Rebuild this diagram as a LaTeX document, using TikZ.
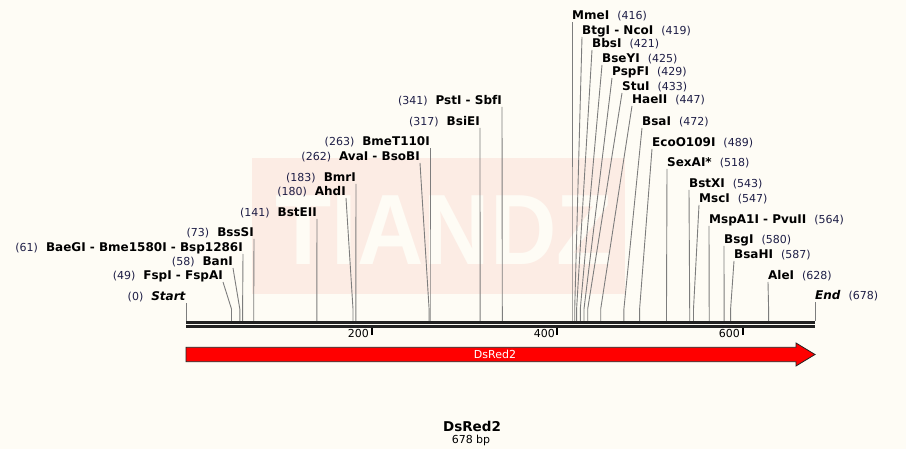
\documentclass[tikz,border=0pt]{standalone}
\usepackage{fontspec}
\setmainfont{DejaVu Sans}
\newfontfamily\wmfont{Liberation Sans}
\usepackage{tikz}
\definecolor{bgcol}{RGB}{254,252,245}
\definecolor{wmpink}{RGB}{252,236,228}
\definecolor{numcol}{RGB}{30,30,70}
\definecolor{sitegray}{RGB}{125,125,125}
\definecolor{barcol}{RGB}{34,34,34}
\newcommand{\numfont}{\fontsize{11}{13}\selectfont\color{numcol}}
\newcommand{\cutR}[2]{\textbf{#1}\hspace{8pt}{\numfont(#2)}}
\newcommand{\cutL}[2]{{\numfont(#2)}\hspace{8pt}\textbf{#1}}
\tikzstyle{rlabel} = [anchor=base west, inner sep=0pt, font=\fontsize{12}{14}\selectfont]
\tikzstyle{llabel} = [anchor=base east, inner sep=0pt, font=\fontsize{12}{14}\selectfont]
\tikzstyle{site} = [draw=sitegray, line width=0.9pt]
\tikzstyle{tick} = [draw=black, line width=2pt]
\tikzstyle{ticklabel} = [anchor=east, inner sep=0pt, font=\fontsize{11}{13}\selectfont]

\begin{document}
\begin{tikzpicture}[x=1pt, y=-1pt]
	\fill[bgcol] (0,0) rectangle (906,449);
	\useasboundingbox (0,0) rectangle (906,449);
	%----------------------------------------------------%
	% watermark
	\fill[wmpink] (252,158) rectangle (625,294);
	\node(wm) [anchor=base, inner sep=0pt, text=bgcol, xscale=0.92, font=\wmfont\bfseries\fontsize{100}{100}\selectfont] at (444,265) {TIANDZ};
	%----------------------------------------------------%
	% sequence ruler
	\fill[barcol] (186,321) rectangle (815,323.7);
	\fill[barcol] (186,325) rectangle (815,327.7);
	\coordinate(t200) at (371.5,327.7);
	\coordinate(t400) at (557.1,327.7);
	\coordinate(t600) at (742.6,327.7);
	\draw[tick] (t200) -- ++(0,7.5);
	\draw[tick] (t400) -- ++(0,7.5);
	\draw[tick] (t600) -- ++(0,7.5);
	\node(n200) [ticklabel] at (369,333) {200};
	\node(n400) [ticklabel] at (555,333) {400};
	\node(n600) [ticklabel] at (740,333) {600};
	%----------------------------------------------------%
	% cut sites, left side
	\coordinate(p0) at (186,321);
	\coordinate(p49) at (231.5,321);
	\coordinate(p58) at (239.8,321);
	\coordinate(p61) at (242.6,321);
	\coordinate(p73) at (253.7,321);
	\coordinate(p141) at (316.8,321);
	\coordinate(p180) at (353.0,321);
	\coordinate(p183) at (355.8,321);
	\coordinate(p262) at (429.1,321);
	\coordinate(p263) at (430.0,321);
	\coordinate(p317) at (480.1,321);
	\coordinate(p341) at (502.3,321);

	\node(startl) [llabel] at (186,301) {\cutL{\textit{Start}}{0}};
	\node(fspi) [llabel] at (223,280) {\cutL{FspI - FspAI}{49}};
	\node(bani) [llabel] at (233,266) {\cutL{BanI}{58}};
	\node(baegi) [llabel] at (243,252) {\cutL{BaeGI - Bme1580I - Bsp1286I}{61}};
	\node(bsssi) [llabel] at (254,237) {\cutL{BssSI}{73}};
	\node(bsteii) [llabel] at (317,217) {\cutL{BstEII}{141}};
	\node(ahdi) [llabel] at (346,196) {\cutL{AhdI}{180}};
	\node(bmri) [llabel] at (356,182) {\cutL{BmrI}{183}};
	\node(avai) [llabel] at (420,161) {\cutL{AvaI - BsoBI}{262}};
	\node(bmet) [llabel] at (430,146) {\cutL{BmeT110I}{263}};
	\node(bsiei) [llabel] at (480,126) {\cutL{BsiEI}{317}};
	\node(psti) [llabel] at (502,105) {\cutL{PstI - SbfI}{341}};

	\draw[site] (p0) -- ([yshift=-2pt]startl.base east);
	\draw[site] (p49) -- ++(0,-12) -- ([yshift=-2pt]fspi.base east);
	\draw[site] (p58) -- ++(0,-12) -- ([yshift=-2pt]bani.base east);
	\draw[site] (p61) -- ++(0,-12) -- ([yshift=-2pt]baegi.base east);
	\draw[site] (p73) -- ++(0,-12) -- ([yshift=-2pt]bsssi.base east);
	\draw[site] (p141) -- ++(0,-12) -- ([yshift=-2pt]bsteii.base east);
	\draw[site] (p180) -- ++(0,-12) -- ([yshift=-2pt]ahdi.base east);
	\draw[site] (p183) -- ++(0,-12) -- ([yshift=-2pt]bmri.base east);
	\draw[site] (p262) -- ++(0,-12) -- ([yshift=-2pt]avai.base east);
	\draw[site] (p263) -- ++(0,-12) -- ([yshift=-2pt]bmet.base east);
	\draw[site] (p317) -- ++(0,-12) -- ([yshift=-2pt]bsiei.base east);
	\draw[site] (p341) -- ++(0,-12) -- ([yshift=-2pt]psti.base east);
	%----------------------------------------------------%
	% cut sites, right side
	\coordinate(p416) at (572.0,321);
	\coordinate(p419) at (574.7,321);
	\coordinate(p421) at (576.6,321);
	\coordinate(p425) at (580.3,321);
	\coordinate(p429) at (584.0,321);
	\coordinate(p433) at (587.7,321);
	\coordinate(p447) at (600.7,321);
	\coordinate(p472) at (623.9,321);
	\coordinate(p489) at (639.6,321);
	\coordinate(p518) at (666.5,321);
	\coordinate(p543) at (689.7,321);
	\coordinate(p547) at (693.5,321);
	\coordinate(p564) at (709.2,321);
	\coordinate(p580) at (724.1,321);
	\coordinate(p587) at (730.6,321);
	\coordinate(p628) at (768.6,321);
	\coordinate(p678) at (815,321);

	\node(mmei) [rlabel] at (572,20) {\cutR{MmeI}{416}};
	\node(btgi) [rlabel] at (582,35) {\cutR{BtgI - NcoI}{419}};
	\node(bbsi) [rlabel] at (592,48) {\cutR{BbsI}{421}};
	\node(bseyi) [rlabel] at (602,63) {\cutR{BseYI}{425}};
	\node(pspfi) [rlabel] at (612,76) {\cutR{PspFI}{429}};
	\node(stui) [rlabel] at (622,91) {\cutR{StuI}{433}};
	\node(haeii) [rlabel] at (632,104) {\cutR{HaeII}{447}};
	\node(bsai) [rlabel] at (642,126) {\cutR{BsaI}{472}};
	\node(ecoo) [rlabel] at (652,147) {\cutR{EcoO109I}{489}};
	\node(sexai) [rlabel] at (667,167) {\cutR{SexAI*}{518}};
	\node(bstxi) [rlabel] at (689,188) {\cutR{BstXI}{543}};
	\node(msci) [rlabel] at (699,203) {\cutR{MscI}{547}};
	\node(mspa) [rlabel] at (709,224) {\cutR{MspA1I - PvuII}{564}};
	\node(bsgi) [rlabel] at (724,244) {\cutR{BsgI}{580}};
	\node(bsahi) [rlabel] at (734,259) {\cutR{BsaHI}{587}};
	\node(alei) [rlabel] at (768,280) {\cutR{AleI}{628}};
	\node(endl) [rlabel] at (815,300) {\cutR{\textit{End}}{678}};

	\draw[site] (p416) -- ++(0,-12) -- ([yshift=-2pt]mmei.base west);
	\draw[site] (p419) -- ++(0,-12) -- ([yshift=-2pt]btgi.base west);
	\draw[site] (p421) -- ++(0,-12) -- ([yshift=-2pt]bbsi.base west);
	\draw[site] (p425) -- ++(0,-12) -- ([yshift=-2pt]bseyi.base west);
	\draw[site] (p429) -- ++(0,-12) -- ([yshift=-2pt]pspfi.base west);
	\draw[site] (p433) -- ++(0,-12) -- ([yshift=-2pt]stui.base west);
	\draw[site] (p447) -- ++(0,-12) -- ([yshift=-2pt]haeii.base west);
	\draw[site] (p472) -- ++(0,-12) -- ([yshift=-2pt]bsai.base west);
	\draw[site] (p489) -- ++(0,-12) -- ([yshift=-2pt]ecoo.base west);
	\draw[site] (p518) -- ++(0,-12) -- ([yshift=-2pt]sexai.base west);
	\draw[site] (p543) -- ++(0,-12) -- ([yshift=-2pt]bstxi.base west);
	\draw[site] (p547) -- ++(0,-12) -- ([yshift=-2pt]msci.base west);
	\draw[site] (p564) -- ++(0,-12) -- ([yshift=-2pt]mspa.base west);
	\draw[site] (p580) -- ++(0,-12) -- ([yshift=-2pt]bsgi.base west);
	\draw[site] (p587) -- ++(0,-12) -- ([yshift=-2pt]bsahi.base west);
	\draw[site] (p628) -- ++(0,-12) -- ([yshift=-2pt]alei.base west);
	\draw[site] (p678) -- ([yshift=-2pt]endl.base west);
	%----------------------------------------------------%
	% feature arrow
	\draw[fill=red, draw=barcol, line width=0.8pt] (186,347.3) -- (796,347.3) -- (796,343) -- (815,354.5) -- (796,366) -- (796,361.7) -- (186,361.7) -- cycle;
	\node(feat) [text=white, inner sep=0pt, font=\fontsize{11}{13}\selectfont] at (495,354.5) {DsRed2};
	%----------------------------------------------------%
	% title
	\node(title) [inner sep=0pt, font=\bfseries\fontsize{13.5}{15}\selectfont] at (472,426) {DsRed2};
	\node(len) [inner sep=0pt, font=\fontsize{11}{13}\selectfont] at (471,440.5) {678 bp};
\end{tikzpicture}
\end{document}
